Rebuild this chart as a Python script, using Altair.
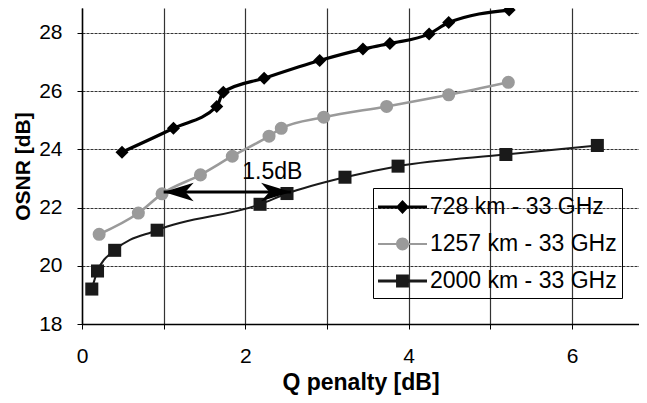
import altair as alt
import pandas as pd

series_names = ["728 km - 33 GHz", "1257 km - 33 GHz", "2000 km - 33 GHz"]
x_728 = [0.49, 1.12, 1.65, 1.73, 2.23, 2.91, 3.44, 3.77, 4.25, 4.49, 5.23]
y_728 = [23.90, 24.72, 25.47, 25.96, 26.44, 27.05, 27.44, 27.63, 27.96, 28.35, 28.78]
x_1257 = [0.21, 0.69, 0.98, 1.45, 1.84, 2.29, 2.44, 2.96, 3.73, 4.49, 5.22]
y_1257 = [21.08, 21.81, 22.47, 23.12, 23.76, 24.45, 24.72, 25.10, 25.47, 25.87, 26.30]
x_2000 = [0.12, 0.19, 0.40, 0.92, 2.18, 2.51, 3.22, 3.87, 5.19, 6.31]
y_2000 = [19.20, 19.82, 20.53, 21.22, 22.11, 22.48, 23.04, 23.42, 23.82, 24.13]

x_ticks = [0, 1, 2, 3, 4, 5, 6]
y_ticks = [18, 20, 22, 24, 26, 28]

# annotation
arrow_x1 = [1.0]
arrow_x2 = [2.56]
arrow_y = [22.53]
note_x = [2.33]
note_y = [23.22]
note_text = ["1.5dB"]

colors = ["#000000", "#9a9a9a", "#1a1a1a"]
widths = [3.2, 2.0, 3.2]
shapes = ["diamond", "circle", "square"]

rows = []
for name, xs, ys in zip(series_names, [x_728, x_1257, x_2000], [y_728, y_1257, y_2000]):
    for xv, yv in zip(xs, ys):
        rows.append({"x": xv, "y": yv, "series": name})
df = pd.DataFrame(rows)

FONT = "Liberation Sans"

xscale = alt.Scale(domain=[0, 6.82], nice=False, zero=False)
yscale = alt.Scale(domain=[18, 28.85], nice=False, zero=False)

X = alt.X("x:Q", scale=xscale,
          axis=alt.Axis(values=x_ticks, title="Q penalty [dB]", format="d", labelFlush=False,
                        titleFontSize=23,
                        labelExpr="datum.value % 2 == 0 ? datum.label : ''"))
Y = alt.Y("y:Q", scale=yscale,
          axis=alt.Axis(values=y_ticks, title="OSNR [dB]", format="d", labelFlush=False,
                        titleFontSize=21))

color_enc = alt.Color("series:N", scale=alt.Scale(domain=series_names, range=colors), legend=None)

lines = alt.Chart(df).mark_line(interpolate="monotone").encode(
    x=X, y=Y, color=color_enc,
    strokeWidth=alt.StrokeWidth("series:N", scale=alt.Scale(domain=series_names, range=widths), legend=None),
    detail="series:N",
)

points = alt.Chart(df).mark_point(filled=True, size=170, opacity=1).encode(
    x=X, y=Y, color=color_enc,
    shape=alt.Shape("series:N", scale=alt.Scale(domain=series_names, range=shapes), legend=None),
)

# legend symbols: line + marker (unit radius 14 px)
leg_diamond = ("M-1,-0.11 L2.5,-0.11 L2.5,0.11 L-1,0.11 Z "
               "M0.75,-0.5 L1.22,0 L0.75,0.5 L0.28,0 Z")
leg_circle = ("M-1,-0.07 L0.3,-0.07 L0.3,0.07 L-1,0.07 Z "
              "M1.2,-0.07 L2.5,-0.07 L2.5,0.07 L1.2,0.07 Z "
              "M1.21,0 A0.46,0.46 0 1,1 0.29,0 A0.46,0.46 0 1,1 1.21,0 Z")
leg_square = ("M-1,-0.11 L0.3,-0.11 L0.3,0.11 L-1,0.11 Z "
              "M1.2,-0.11 L2.5,-0.11 L2.5,0.11 L1.2,0.11 Z "
              "M0.29,-0.46 L1.21,-0.46 L1.21,0.46 L0.29,0.46 Z")

legend = alt.Legend(
    title=None, orient="none", legendX=291, legendY=180,
    strokeColor="black", padding=5, rowPadding=11,
    labelFont=FONT, labelFontSize=23, labelColor="black", labelOffset=24, labelLimit=400,
    symbolSize=784, symbolStrokeWidth=0, symbolOpacity=1,
)

legend_layer = alt.Chart(df).transform_filter("false").mark_point(filled=True, size=784).encode(
    x=X, y=Y,
    color=alt.Color("series:N", scale=alt.Scale(domain=series_names, range=colors), legend=legend),
    shape=alt.Shape("series:N", scale=alt.Scale(domain=series_names,
                                                range=[leg_diamond, leg_circle, leg_square]),
                    legend=legend),
)

ann = pd.DataFrame({"x1": arrow_x1, "x2": arrow_x2, "y": arrow_y})
arrow_line = alt.Chart(ann).mark_rule(color="black", strokeWidth=3).encode(
    x=alt.X("x1:Q", scale=xscale), x2="x2:Q", y=alt.Y("y:Q", scale=yscale))
head_left = alt.Chart(ann).mark_point(
    filled=True, color="black", size=900, opacity=1,
    shape="M0,0 L2,-0.62 L1.45,0 L2,0.62 Z").encode(
    x=alt.X("x1:Q", scale=xscale), y=alt.Y("y:Q", scale=yscale))
head_right = alt.Chart(ann).mark_point(
    filled=True, color="black", size=900, opacity=1,
    shape="M0,0 L-2,-0.62 L-1.45,0 L-2,0.62 Z").encode(
    x=alt.X("x2:Q", scale=xscale), y=alt.Y("y:Q", scale=yscale))

note = alt.Chart(pd.DataFrame({"x": note_x, "y": note_y, "t": note_text})).mark_text(
    font=FONT, fontSize=23, color="black", baseline="middle", align="center").encode(
    x=alt.X("x:Q", scale=xscale), y=alt.Y("y:Q", scale=yscale), text="t:N")

chart = alt.layer(lines, points, arrow_line, head_left, head_right, note, legend_layer).resolve_scale(
    color="independent", shape="independent"
).properties(
    width=557, height=316,
    autosize=alt.AutoSizeParams(type="none"),
    padding={"left": 74, "top": 0, "right": 0, "bottom": 71},
    background="white",
).configure_view(
    stroke="transparent"
).configure_axis(
    labelFont=FONT, labelFontSize=21, labelColor="black",
    titleFont=FONT, titleFontWeight="bold", titleColor="black",
    domainColor="black", domainWidth=1.5,
    tickColor="black", tickSize=5, tickWidth=1,
    gridColor="#333333", gridWidth=1.2, gridOpacity=1,
).configure_axisX(
    labelPadding=16, titlePadding=5, gridDash=[1, 0]
).configure_axisY(
    labelPadding=15, titlePadding=5, gridDash=[3, 1]
)

chart.save("out.html", embed_options={"renderer": "svg", "actions": False})
